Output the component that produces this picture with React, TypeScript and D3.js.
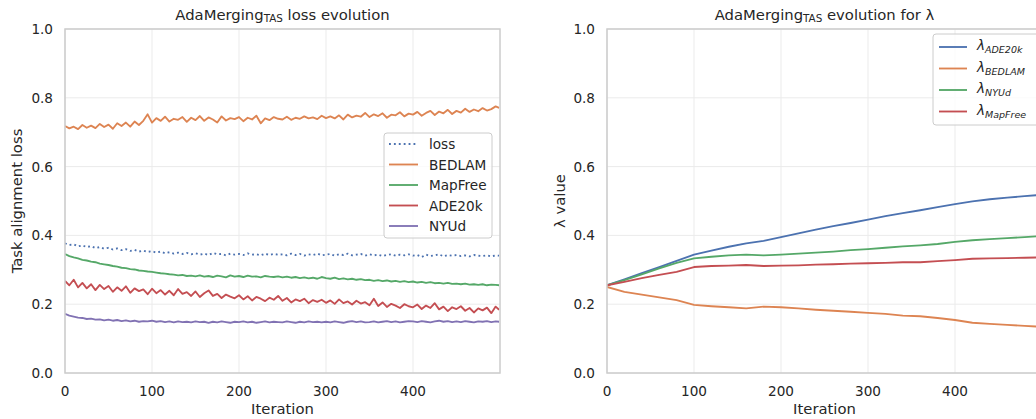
import React from "react";
import * as d3 from "d3";

// ---------- Data ----------
const ITER_LOSS: number[] = [...d3.range(0, 500, 5), 499];

const LOSS: number[] = [
  0.377, 0.372, 0.374, 0.368, 0.371, 0.366, 0.369, 0.363, 0.366, 0.361,
  0.364, 0.359, 0.362, 0.357, 0.36, 0.355, 0.358, 0.353, 0.356, 0.352,
  0.354, 0.35, 0.353, 0.348, 0.351, 0.347, 0.35, 0.346, 0.349, 0.345,
  0.348, 0.344, 0.347, 0.343, 0.349, 0.345, 0.346, 0.342, 0.347, 0.344,
  0.346, 0.343, 0.348, 0.344, 0.345, 0.342, 0.347, 0.343, 0.346, 0.344,
  0.345, 0.342, 0.347, 0.343, 0.346, 0.341, 0.345, 0.343, 0.347, 0.342,
  0.344, 0.346, 0.341, 0.345, 0.343, 0.347, 0.342, 0.344, 0.346, 0.341,
  0.345, 0.342, 0.344, 0.34, 0.343, 0.345, 0.341, 0.344, 0.342, 0.345,
  0.341, 0.343, 0.337, 0.344, 0.34, 0.342, 0.345, 0.339, 0.343, 0.341,
  0.343, 0.34, 0.342, 0.339, 0.343, 0.341, 0.34, 0.342, 0.339, 0.342, 0.341,
];

const BEDLAM: number[] = [
  0.718, 0.711, 0.716, 0.709, 0.721, 0.713, 0.719, 0.712, 0.724, 0.715,
  0.722, 0.71, 0.726, 0.718, 0.728, 0.716, 0.731, 0.721, 0.733, 0.752,
  0.728, 0.741, 0.733, 0.745, 0.731, 0.739, 0.736, 0.744, 0.73, 0.742,
  0.735, 0.747, 0.733, 0.743, 0.737, 0.728, 0.746, 0.734, 0.741, 0.738,
  0.744, 0.732, 0.742, 0.737, 0.748, 0.726, 0.74, 0.735, 0.744, 0.739,
  0.737, 0.745, 0.736, 0.742, 0.739, 0.746, 0.74, 0.743, 0.738, 0.748,
  0.741, 0.746, 0.74, 0.749, 0.737, 0.751, 0.743, 0.748, 0.745, 0.756,
  0.744, 0.752, 0.747, 0.755, 0.742, 0.751, 0.749, 0.758, 0.746, 0.754,
  0.751, 0.759, 0.748, 0.756, 0.762, 0.75, 0.76, 0.755, 0.765, 0.753,
  0.762, 0.757, 0.768, 0.759, 0.766, 0.761, 0.77, 0.763, 0.767, 0.775, 0.771,
];

const MAPFREE: number[] = [
  0.346, 0.34, 0.336, 0.333, 0.329, 0.327, 0.324, 0.322, 0.318, 0.316,
  0.314, 0.311, 0.309, 0.306, 0.305, 0.302, 0.301, 0.298, 0.297, 0.295,
  0.294, 0.292, 0.29, 0.289, 0.287, 0.286, 0.284, 0.285, 0.282, 0.283,
  0.281, 0.284, 0.28, 0.282, 0.279, 0.283, 0.281, 0.278, 0.284, 0.28,
  0.282, 0.279, 0.283, 0.28, 0.281, 0.278, 0.282, 0.28, 0.279, 0.281,
  0.278, 0.28, 0.277, 0.279, 0.276, 0.278, 0.275, 0.277, 0.274, 0.279,
  0.276, 0.274, 0.277, 0.273, 0.275, 0.272, 0.274, 0.271, 0.273, 0.27,
  0.271, 0.268, 0.27, 0.267, 0.269, 0.266, 0.268, 0.265, 0.267, 0.264,
  0.266, 0.263, 0.265, 0.262, 0.264, 0.261, 0.262, 0.26, 0.262, 0.259,
  0.26, 0.258, 0.26, 0.257, 0.258, 0.256, 0.258, 0.255, 0.257, 0.256, 0.255,
];

const ADE20K: number[] = [
  0.268, 0.255, 0.271, 0.249, 0.262, 0.246, 0.258, 0.241, 0.256, 0.244,
  0.253, 0.236, 0.249, 0.239, 0.252, 0.233, 0.246, 0.238, 0.243, 0.229,
  0.245, 0.232, 0.241, 0.228, 0.239, 0.226, 0.244, 0.23, 0.235, 0.224,
  0.237, 0.221, 0.232, 0.24, 0.224, 0.23, 0.218, 0.228, 0.222, 0.217,
  0.226, 0.214, 0.223, 0.211, 0.221, 0.216, 0.209, 0.219, 0.213, 0.224,
  0.21, 0.218, 0.205, 0.214, 0.209, 0.216, 0.203, 0.212, 0.207, 0.213,
  0.204, 0.211, 0.201, 0.214, 0.203, 0.208, 0.199, 0.21, 0.202, 0.206,
  0.197, 0.216, 0.195, 0.205, 0.192, 0.201, 0.196, 0.189, 0.2, 0.194,
  0.191, 0.199, 0.186, 0.196, 0.189, 0.203, 0.185, 0.193, 0.18, 0.191,
  0.186, 0.194, 0.181, 0.189, 0.176, 0.188, 0.182, 0.19, 0.174, 0.193, 0.184,
];

const NYUD: number[] = [
  0.172, 0.167, 0.164, 0.161, 0.16, 0.157, 0.158, 0.155, 0.156, 0.153,
  0.155, 0.152, 0.154, 0.151, 0.153, 0.15, 0.152, 0.149, 0.151, 0.15,
  0.152, 0.149, 0.151, 0.148, 0.15, 0.147, 0.15, 0.148, 0.149, 0.147,
  0.15, 0.148, 0.149, 0.146, 0.149, 0.147, 0.15, 0.148, 0.146, 0.149,
  0.148, 0.15, 0.147, 0.149, 0.146, 0.148, 0.15, 0.147, 0.149, 0.148,
  0.147, 0.15, 0.148, 0.146, 0.149, 0.147, 0.15, 0.148, 0.149, 0.147,
  0.149, 0.147, 0.15, 0.148, 0.146, 0.149, 0.151, 0.148, 0.15, 0.147,
  0.148, 0.15, 0.147, 0.149, 0.151, 0.148, 0.15, 0.147, 0.149, 0.151,
  0.15, 0.148, 0.151, 0.149, 0.147, 0.15, 0.152, 0.149, 0.151, 0.148,
  0.15, 0.148, 0.151, 0.149, 0.147, 0.15, 0.149, 0.151, 0.148, 0.15, 0.149,
];

const ITER_LAMBDA: number[] = d3.range(0, 501, 20);
const LAMBDA_ADE20K: number[] = [
  0.255, 0.272, 0.29, 0.308, 0.326, 0.344, 0.356, 0.367, 0.377, 0.384,
  0.395, 0.406, 0.417, 0.427, 0.436, 0.446, 0.456, 0.465, 0.473, 0.482,
  0.491, 0.499, 0.505, 0.51, 0.514, 0.518,
];
const LAMBDA_BEDLAM: number[] = [
  0.25, 0.236, 0.228, 0.22, 0.212, 0.198, 0.194, 0.191, 0.188, 0.193,
  0.191, 0.188, 0.184, 0.181, 0.178, 0.175, 0.172, 0.167, 0.165, 0.16,
  0.154, 0.146, 0.143, 0.14, 0.137, 0.134,
];
const LAMBDA_NYUD: number[] = [
  0.255, 0.27, 0.287, 0.304, 0.32, 0.333, 0.338, 0.342, 0.344, 0.342,
  0.344, 0.347, 0.35, 0.353, 0.357, 0.36, 0.364, 0.368, 0.371, 0.375,
  0.381, 0.386, 0.389, 0.392, 0.395, 0.398,
];
const LAMBDA_MAPFREE: number[] = [
  0.255, 0.265, 0.276, 0.285, 0.294, 0.308, 0.311, 0.312, 0.314, 0.311,
  0.312, 0.313, 0.315, 0.316, 0.318, 0.319, 0.32, 0.322, 0.322, 0.325,
  0.328, 0.332, 0.333, 0.334, 0.335, 0.336,
];

const X_TICKS = [0, 100, 200, 300, 400];
const Y_TICKS = [0, 0.2, 0.4, 0.6, 0.8, 1.0];

const C = {
  blue: "#4C72B0",
  orange: "#DD8452",
  green: "#55A868",
  red: "#C44E52",
  purple: "#8172B3",
  text: "#262626",
  spine: "#cccccc",
  grid: "#ebebeb",
};

const FONT = "DejaVu Sans, sans-serif";
const TICK_FS = 13.6;
const LABEL_FS = 14.8;
const LW = 1.85;

type Series = { name: string; sub?: string; x: number[]; y: number[]; color: string; dash?: string };

function Panel(props: {
  left: number;
  right: number;
  top: number;
  bottom: number;
  series: Series[];
  title: React.ReactNode;
  ylabel: string;
  ylabelX: number;
  clipId: string;
}) {
  const { left, right, top, bottom, series } = props;
  const x = d3.scaleLinear().domain([0, 500]).range([left, right]);
  const y = d3.scaleLinear().domain([0, 1]).range([bottom, top]);
  const line = d3
    .line<[number, number]>()
    .x((d) => x(d[0]))
    .y((d) => y(d[1]));
  const cx = (left + right) / 2;
  return (
    <g>
      <defs>
        <clipPath id={props.clipId}>
          <rect x={left} y={top} width={right - left} height={bottom - top} />
        </clipPath>
      </defs>
      {X_TICKS.map((t) => (
        <line key={"gx" + t} x1={x(t)} x2={x(t)} y1={top} y2={bottom} stroke={C.grid} strokeWidth={1} />
      ))}
      {Y_TICKS.map((t) => (
        <line key={"gy" + t} x1={left} x2={right} y1={y(t)} y2={y(t)} stroke={C.grid} strokeWidth={1} />
      ))}
      <g clipPath={`url(#${props.clipId})`}>
        {series.map((s) => (
          <path
            key={s.name}
            d={line(s.x.map((v, i) => [v, s.y[i]] as [number, number])) || ""}
            fill="none"
            stroke={s.color}
            strokeWidth={LW}
            strokeDasharray={s.dash}
            strokeLinejoin="round"
          />
        ))}
      </g>
      <rect x={left} y={top} width={right - left} height={bottom - top} fill="none" stroke={C.spine} strokeWidth={1.5} />
      {X_TICKS.map((t) => (
        <text key={"tx" + t} x={x(t)} y={396} textAnchor="middle" fontSize={TICK_FS} fill={C.text} fontFamily={FONT}>
          {t}
        </text>
      ))}
      {Y_TICKS.map((t) => (
        <text key={"ty" + t} x={left - 12} y={y(t) + 5} textAnchor="end" fontSize={TICK_FS} fill={C.text} fontFamily={FONT}>
          {t.toFixed(1)}
        </text>
      ))}
      <text x={cx} y={414} textAnchor="middle" fontSize={LABEL_FS} fill={C.text} fontFamily={FONT}>
        Iteration
      </text>
      <text
        transform={`translate(${props.ylabelX},${(top + bottom) / 2}) rotate(-90)`}
        textAnchor="middle"
        fontSize={LABEL_FS}
        fill={C.text}
        fontFamily={FONT}
      >
        {props.ylabel}
      </text>
      <text x={cx} y={20} textAnchor="middle" fontSize={LABEL_FS} fill={C.text} fontFamily={FONT}>
        {props.title}
      </text>
    </g>
  );
}

export default function App() {
  const lossSeries: Series[] = [
    { name: "loss", x: ITER_LOSS, y: LOSS, color: C.blue, dash: "1.85 3.05" },
    { name: "BEDLAM", x: ITER_LOSS, y: BEDLAM, color: C.orange },
    { name: "MapFree", x: ITER_LOSS, y: MAPFREE, color: C.green },
    { name: "ADE20k", x: ITER_LOSS, y: ADE20K, color: C.red },
    { name: "NYUd", x: ITER_LOSS, y: NYUD, color: C.purple },
  ];
  const lambdaSeries: Series[] = [
    { name: "ADE20k", x: ITER_LAMBDA, y: LAMBDA_ADE20K, color: C.blue },
    { name: "BEDLAM", x: ITER_LAMBDA, y: LAMBDA_BEDLAM, color: C.orange },
    { name: "NYUd", x: ITER_LAMBDA, y: LAMBDA_NYUD, color: C.green },
    { name: "MapFree", x: ITER_LAMBDA, y: LAMBDA_MAPFREE, color: C.red },
  ];
  const leftLegY = [144, 164.5, 185, 205.5, 226];
  const rightLegY = [47, 68.5, 90, 111.5];
  return (
    <svg
      width={1036}
      height={419}
      style={{ position: "absolute", left: 0, top: 0, background: "#fff" }}
      fontFamily={FONT}
    >
      <rect x={0} y={0} width={1036} height={419} fill="#fff" />
      <Panel
        left={65}
        right={500}
        top={29}
        bottom={373}
        series={lossSeries}
        clipId="clipL"
        ylabel="Task alignment loss"
        ylabelX={22}
        title={
          <>
            AdaMerging
            <tspan fontSize={10.4} dy={2}>TAS</tspan>
            <tspan dy={-2}> loss evolution</tspan>
          </>
        }
      />
      <Panel
        left={607}
        right={1042}
        top={29}
        bottom={373}
        series={lambdaSeries}
        clipId="clipR"
        ylabel="λ value"
        ylabelX={565}
        title={
          <>
            AdaMerging
            <tspan fontSize={10.4} dy={2}>TAS</tspan>
            <tspan dy={-2}> evolution for λ</tspan>
          </>
        }
      />
      {/* left legend */}
      <rect x={384} y={133} width={108} height={105} rx={3} fill="#fff" fillOpacity={0.8} stroke={C.spine} strokeWidth={1} />
      {lossSeries.map((s, i) => (
        <g key={"ll" + s.name}>
          <line x1={389} x2={418} y1={leftLegY[i]} y2={leftLegY[i]} stroke={s.color} strokeWidth={LW} strokeDasharray={s.dash} />
          <text x={429} y={leftLegY[i] + 5} fontSize={TICK_FS} fill={C.text} fontFamily={FONT}>
            {s.name}
          </text>
        </g>
      ))}
      {/* right legend */}
      <rect x={933} y={34} width={110} height={91} rx={3} fill="#fff" fillOpacity={0.8} stroke={C.spine} strokeWidth={1} />
      {lambdaSeries.map((s, i) => (
        <g key={"rl" + s.name}>
          <line x1={939} x2={967} y1={rightLegY[i]} y2={rightLegY[i]} stroke={s.color} strokeWidth={LW} />
          <text x={977} y={rightLegY[i] + 3} fontSize={TICK_FS} fill={C.text} fontFamily={FONT} fontStyle="italic">
            λ
            <tspan fontSize={9.5} dy={3}>{s.name}</tspan>
          </text>
        </g>
      ))}
    </svg>
  );
}
